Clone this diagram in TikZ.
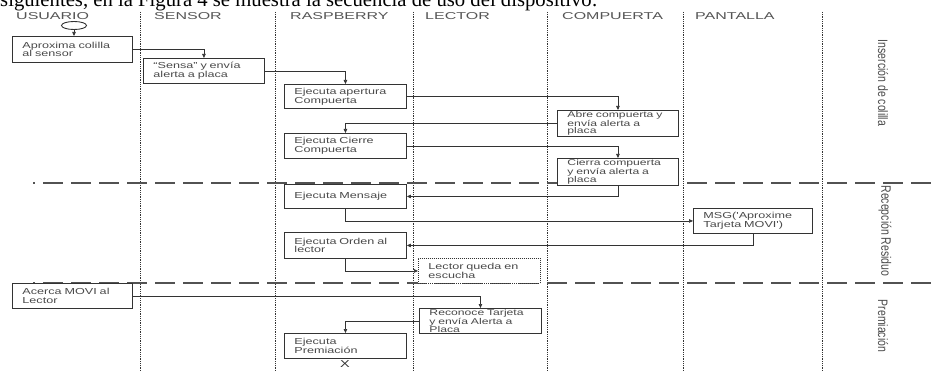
\documentclass[tikz,border=0pt]{standalone}
\usepackage{fontspec}
\setmainfont{Liberation Serif}
\newfontfamily\boxfont[FakeStretch=1.45]{Liberation Sans}
\newfontfamily\headfont[FakeStretch=1.6]{Liberation Sans}
\newfontfamily\sidefont{Liberation Sans}
\usetikzlibrary{arrows.meta,shapes.geometric}
\definecolor{ink}{HTML}{333333}
\definecolor{txt}{HTML}{4A4A4A}
\definecolor{headtxt}{HTML}{555555}
\begin{document}
\begin{tikzpicture}[x=1pt,y=-1pt,
  stepbox/.style={draw=ink, fill=white, line width=0.9pt, anchor=north west,
    inner xsep=10pt, inner ysep=0pt, align=left, minimum width=122pt,
    text width=102pt, minimum height=25pt,
    font=\boxfont\fontsize{8.7}{8.8}\selectfont, text=txt},
  tight/.style={inner ysep=0.6pt, font=\boxfont\fontsize{8.4}{7.6}\selectfont},
  conn/.style={draw=ink, line width=0.7pt, -{Triangle[length=4pt,width=3.5pt]}},
  lane/.style={draw=ink, line width=0.9pt, dash pattern=on 0.9pt off 0.9pt},
  phase/.style={draw=ink!85, line width=1.4pt, dash pattern=on 20pt off 8pt, dash phase=18pt},
  head/.style={anchor=west, font=\headfont\fontsize{10}{10}\selectfont, text=headtxt, inner sep=0pt},
  side/.style={font=\sidefont\fontsize{10.5}{11}\selectfont, text=txt, rotate=-90, inner sep=0pt}]
\useasboundingbox (0,0) rectangle (933,371);
\clip (0,0) rectangle (933,371);

% cropped body text at the top
\node[anchor=base west, inner sep=0pt, font=\fontsize{20.7}{22}\selectfont, text=black] (bodytext) at (0,6.5)
  {siguientes, en la Figura 4 se muestra la secuencia de uso del dispositivo:};

% lanes
\foreach \x/\n in {140/l1,275/l2,413/l3,547/l4,683/l5,822/l6}
  \draw[lane] (\x,12) -- (\x,371);

% phase separators
\draw[phase] (33,183) -- (933,183);
\draw[phase] (33,283) -- (933,283);

% headers
\node[head] (hU) at (16,16.5) {USUARIO};
\node[head] (hS) at (154,16.5) {SENSOR};
\node[head] (hR) at (290,16.5) {RASPBERRY};
\node[head] (hL) at (425,16.5) {LECTOR};
\node[head] (hC) at (562,16.5) {COMPUERTA};
\node[head] (hP) at (695,16.5) {PANTALLA};

% side labels
\node[side] (s1) at (883,83) {\scalebox{1}[1.3]{Inserción de colilla}};
\node[side] (s2) at (885,231) {\scalebox{1}[1.3]{Recepción Residuo}};
\node[side] (s3) at (883,326) {\scalebox{1}[1.3]{Premiación}};

% start
\node[draw=ink, line width=0.9pt, ellipse, minimum width=25pt, minimum height=8pt, inner sep=0pt] (start) at (74,25.5) {};

% boxes
\node[stepbox, minimum width=120pt, text width=100pt, minimum height=26pt] (b1) at (12,36) {Aproxima colilla\\al sensor};
\node[stepbox, minimum width=121pt, text width=101pt] (b2) at (143,58) {“Sensa” y envía\\alerta a placa};
\node[stepbox, minimum height=24pt] (b3) at (284,84) {Ejecuta apertura\\Compuerta};
\node[stepbox, tight, minimum width=121pt, text width=101pt, minimum height=23pt] (b4) at (557,110) {Abre compuerta y\\envía alerta a\\placa};
\node[stepbox] (b5) at (284,133) {Ejecuta Cierre\\Compuerta};
\node[stepbox, tight, minimum width=121pt, text width=101pt] (b6) at (557,158) {Cierra compuerta\\y envía alerta a\\placa};
\node[stepbox, minimum height=24pt] (b7) at (284,184) {Ejecuta Mensaje};
\node[stepbox, minimum width=119pt, text width=99pt] (b8) at (693,208) {MSG('Aproxime\\Tarjeta MOVI')};
\node[stepbox, minimum height=26pt] (b9) at (284,232) {Ejecuta Orden al\\lector};
\node[stepbox, dash pattern=on 1pt off 1pt] (b10) at (418,258) {Lector queda en\\escucha};
\node[stepbox, minimum width=120pt, text width=100pt] (b11) at (12,283) {Acerca MOVI al\\Lector};
\node[stepbox, tight] (b12) at (419,308) {Reconoce Tarjeta\\y envía Alerta a\\Placa};
\node[stepbox] (b13) at (284,333) {Ejecuta\\Premiación};

% end marker
\node[font=\boxfont\fontsize{10}{10}\selectfont, text=ink, inner sep=0pt] (endx) at (345,364) {X};

% connectors
\draw[conn] (start.south) -- (start.south |- b1.north);
\draw[conn] (b1.east) -| (b2.north);
\draw[conn] (b2.east) -| (b3.north);
\draw[conn] (b3.east) -| (b4.north);
\draw[conn] (b4.west) -| (b5.north);
\draw[conn] (b5.east) -| (b6.north);
\draw[conn] (b6.south) |- (b7.east);
\draw[conn] (b7.south) |- (b8.west);
\draw[conn] (b8.south) |- (b9.east);
\draw[conn] (b9.south) |- (b10.west);
\draw[conn] (b11.east) -| (b12.north);
\draw[conn] (b12.west) -| (b13.north);
\end{tikzpicture}
\end{document}
